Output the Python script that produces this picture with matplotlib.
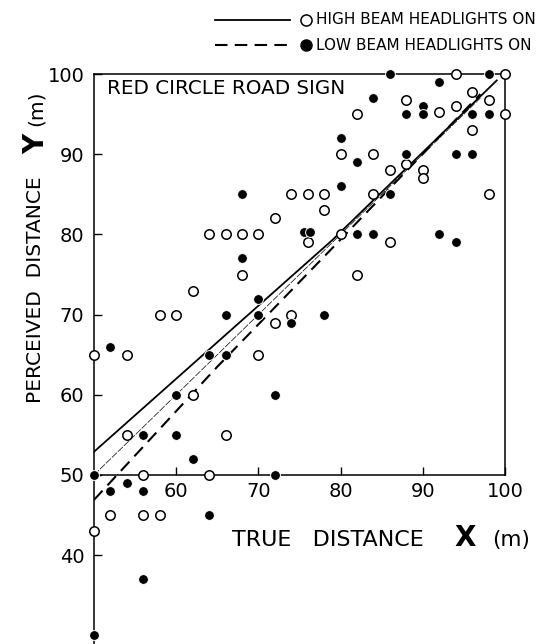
import matplotlib.pyplot as plt
from matplotlib.lines import Line2D

# high beam headlights on (open circles)
high_x = [50, 54, 58, 60, 62, 64, 66, 68, 70, 68, 72, 74, 76, 78, 78, 72, 74, 70,
          62, 54, 66, 56, 64, 52, 56, 58, 50, 76, 80, 86, 82, 80, 84, 84, 82, 88,
          86, 88, 90, 90, 92, 94, 96, 98, 94, 100, 100, 96, 98]
high_y = [65, 65, 70, 70, 73, 80, 80, 80, 80, 75, 82, 85, 85, 85, 83, 69, 70, 65,
          60, 55, 55, 50, 50, 45, 45, 45, 43, 79, 80, 79, 75, 90, 90, 85, 95, 96.8,
          88, 88.8, 88, 87, 95.2, 96, 97.8, 96.8, 100, 100, 95, 93, 85]

# low beam headlights on (filled circles)
low_x = [68, 68, 70, 70, 66, 74, 78, 52, 64, 66, 60, 72, 56, 60, 62, 50, 72, 52,
         54, 56, 64, 56, 50, 75.6, 76.3, 82, 84, 92, 94, 80, 86, 82, 88, 80, 84,
         86, 92, 98, 90, 90, 88, 96, 98, 94, 96]
low_y = [85, 77, 72, 70, 70, 69, 70, 66, 65, 65, 60, 60, 55, 55, 52, 50, 50, 48,
         49, 48, 45, 37, 30, 80.3, 80.3, 80, 80, 80, 79, 86, 85, 89, 90, 92, 97,
         100, 99, 100, 96, 95, 95, 95, 95, 90, 90]

# fitted lines
high_line_x = [50, 79, 99]
high_line_y = [52.9, 79.3, 99.2]
low_line_x = [50, 65, 79, 97]
low_line_y = [46.9, 63.5, 78.3, 97.5]
ref_x = [50, 97]
ref_y = [50, 97]

W, H = 548, 644


def fx(px):
    return px / W


def fy(py):
    return 1 - py / H


plt.rcParams['font.family'] = ['DejaVu Sans']

fig = plt.figure(figsize=(W / 100, H / 100), dpi=100)
ax = fig.add_axes([fx(94), 0, 411 / W, 570 / H])
ax.set_xlim(50, 100)
ax.set_ylim(100 - 570 / 8.02, 100)

# lines
ax.plot(high_line_x, high_line_y, color='black', lw=1.3, ls='-', zorder=2)
ax.plot(low_line_x, low_line_y, color='black', lw=1.5, ls=(0, (6, 3.5)), zorder=2)
ax.plot(ref_x, ref_y, color='black', lw=0.5, ls=(0, (10, 2)), zorder=2)

# points
ax.scatter(high_x, high_y, s=46, facecolor='white', edgecolor='black',
           linewidth=1.1, zorder=4, clip_on=False)
ax.scatter(low_x, low_y, s=50, facecolor='black', edgecolor='white',
           linewidth=0.7, zorder=4, clip_on=False)

# spines: x axis crosses at y = 50
ax.spines['bottom'].set_position(('data', 50))
ax.spines['bottom'].set_bounds(50, 100)
ax.spines['right'].set_bounds(50, 100)
for s in ax.spines.values():
    s.set_linewidth(1.1)
    s.set_zorder(1)

ax.set_xticks([60, 70, 80, 90, 100])
ax.set_yticks([40, 50, 60, 70, 80, 90, 100])
ax.tick_params(axis='x', direction='in', length=6, width=1, labelsize=14, pad=5)
ax.tick_params(axis='y', direction='in', length=6, width=1, labelsize=14, pad=7)

fig.text(fx(107), fy(88), 'RED CIRCLE ROAD SIGN', fontsize=14.3,
         ha='left', va='center')

# axis labels
fig.text(fx(36), fy(403), 'PERCEIVED  DISTANCE', fontsize=14.5, rotation=90,
         ha='center', va='bottom')
fig.text(fx(36), fy(144), 'Y', fontsize=20, fontweight='bold', rotation=90,
         ha='center', va='center')
fig.text(fx(36), fy(108), '(m)', fontsize=14.5, rotation=90,
         ha='center', va='center')

fig.text(fx(232), fy(540), 'TRUE   DISTANCE', fontsize=16,
         ha='left', va='center')
fig.text(fx(465), fy(538), 'X', fontsize=20, fontweight='bold',
         ha='center', va='center')
fig.text(fx(511), fy(540), '(m)', fontsize=15.5, ha='center', va='center')

# legend
fig.add_artist(Line2D([fx(215), fx(290)], [fy(20), fy(20)], color='black',
                      lw=1.3, transform=fig.transFigure))
fig.add_artist(Line2D([fx(215), fx(290)], [fy(45), fy(45)], color='black',
                      lw=1.5, ls=(0, (6, 3.5)), transform=fig.transFigure))
fig.add_artist(Line2D([fx(306)], [fy(20)], marker='o', ms=8, mfc='white',
                      mec='black', mew=1.1, transform=fig.transFigure))
fig.add_artist(Line2D([fx(306)], [fy(45)], marker='o', ms=8, mfc='black',
                      mec='black', transform=fig.transFigure))
fig.text(fx(316), fy(20), 'HIGH BEAM HEADLIGHTS ON', fontsize=11,
         ha='left', va='center')
fig.text(fx(316), fy(45), 'LOW BEAM HEADLIGHTS ON', fontsize=11,
         ha='left', va='center')

fig.savefig('out.png', dpi=100)
